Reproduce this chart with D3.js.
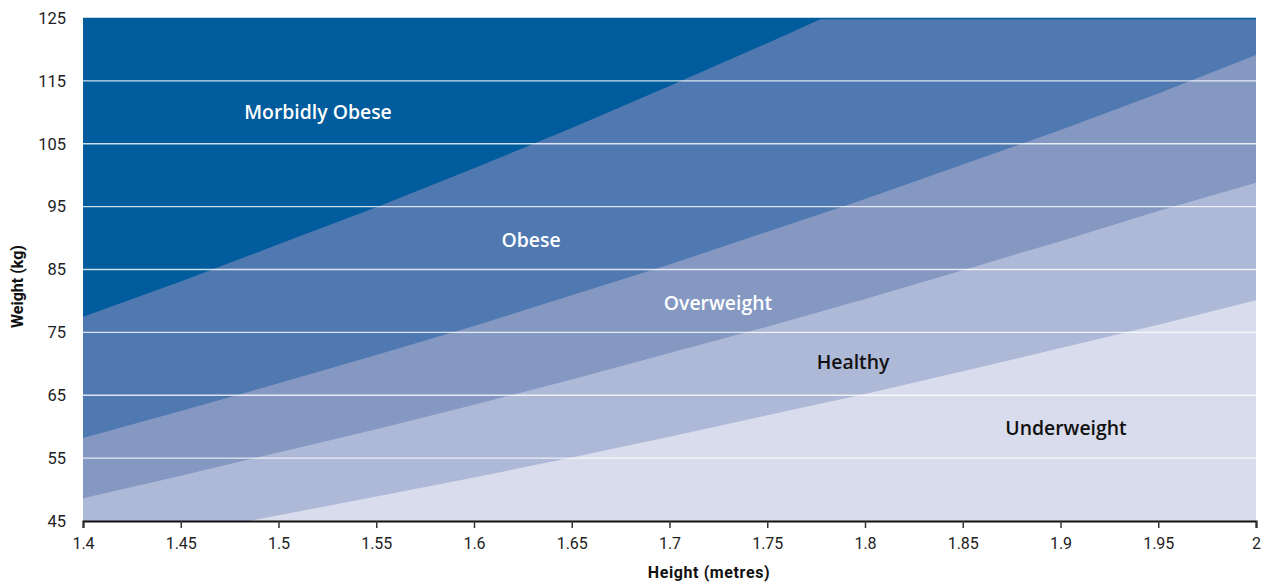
<!DOCTYPE html>
<html>
<head>
<meta charset="utf-8">
<script src="https://cdn.jsdelivr.net/npm/d3@7"></script>
<style>
  html, body { margin: 0; padding: 0; background: #fff; }
  svg { display: block; }
</style>
</head>
<body>
<svg id="chart" width="1269" height="588"></svg>
<script>
// ---- data ----
const heights = [1.40, 1.45, 1.50, 1.55, 1.60, 1.65, 1.70, 1.75, 1.80, 1.85, 1.90, 1.95, 2.00];
// upper weight boundary (kg) of each band at each height
const underweightTop = [40.2, 43.0, 45.9, 48.9, 51.9, 55.1, 58.4, 61.8, 65.2, 68.8, 72.5, 76.2, 80.1];
const healthyTop     = [48.6, 52.2, 55.9, 59.6, 63.5, 67.5, 71.7, 75.9, 80.3, 84.9, 89.5, 94.3, 98.8];
const overweightTop  = [58.2, 62.5, 66.9, 71.4, 76.0, 80.9, 85.8, 91.0, 96.2, 101.7, 107.2, 113.0, 119.1];
const obeseTop       = [77.5, 83.1, 89.0, 94.9, 101.1, 107.5, 114.2, 121.0, 128.0, 135.2, 142.6, 150.2, 158.0];
const bandNames = ["Underweight", "Healthy", "Overweight", "Obese", "Morbidly Obese"];
const bandColors = ["#d8dcec", "#aeb8d7", "#8498c2", "#5079b1", "#005c9c"];
const bandLabelPos = [[1.9028, 59.8], [1.7939, 70.3], [1.7248, 79.7], [1.6292, 89.7], [1.5202, 110.1]];
const bandLabelColor = ["#111", "#111", "#fff", "#fff", "#fff"];
const xTicks = [1.4, 1.45, 1.5, 1.55, 1.6, 1.65, 1.7, 1.75, 1.8, 1.85, 1.9, 1.95, 2];
const yTicks = [45, 55, 65, 75, 85, 95, 105, 115, 125];
const xTitle = "Height (metres)";
const yTitle = "Weight (kg)";

// ---- layout ----
const svg = d3.select("#chart");
const L = 83, R = 1256, T = 18, B = 521;
const x = d3.scaleLinear().domain([1.4, 2.0]).range([L, R]);
const y = d3.scaleLinear().domain([45, 125]).range([B, T]);

svg.append("defs").append("clipPath").attr("id", "plotclip")
  .append("rect").attr("x", L).attr("y", T).attr("width", R - L).attr("height", B - T);

const plot = svg.append("g").attr("clip-path", "url(#plotclip)");

const lowers = [null, underweightTop, healthyTop, overweightTop, obeseTop];

plot.append("rect").attr("x", L).attr("y", T).attr("width", R - L).attr("height", B - T)
  .attr("fill", bandColors[0]);

const area = d3.area()
  .x((d, i) => x(heights[i]))
  .y0(d => y(d))
  .y1(() => y(200));

for (let b = 1; b < 5; b++) {
  plot.append("path").datum(lowers[b]).attr("d", area).attr("fill", bandColors[b]);
}

// grid lines
plot.append("g").selectAll("line").data(yTicks.filter(t => t > 45 && t < 125)).join("line")
  .attr("x1", L).attr("x2", R)
  .attr("y1", d => y(d)).attr("y2", d => y(d))
  .attr("stroke", "#ffffff").attr("stroke-opacity", 0.8).attr("stroke-width", 1.4);

// top edge line
svg.append("line").attr("x1", L).attr("x2", R).attr("y1", T + 0.5).attr("y2", T + 0.5)
  .attr("stroke", "#005c9c").attr("stroke-width", 1.5);

// band labels
plot.append("g").selectAll("text").data(bandNames).join("text")
  .attr("x", (d, i) => x(bandLabelPos[i][0]))
  .attr("y", (d, i) => y(bandLabelPos[i][1]))
  .attr("text-anchor", "middle")
  .attr("dominant-baseline", "central")
  .attr("fill", (d, i) => bandLabelColor[i])
  .style("font-family", "'Open Sans', 'Noto Sans', sans-serif")
  .style("font-weight", "600")
  .style("font-size", "19.4px")
  .text(d => d);

// x axis
const xAxis = svg.append("g").attr("transform", `translate(0,${B})`)
  .call(d3.axisBottom(x).tickValues(xTicks).tickSize(7).tickPadding(10)
    .tickFormat(d => d3.format("")(+d.toFixed(2))));
xAxis.select(".domain").attr("stroke", "#111").attr("stroke-width", 2);
xAxis.selectAll(".tick line").attr("stroke", "#333").attr("stroke-width", 1.5);
xAxis.selectAll("text")
  .style("font-family", "'Liberation Sans Narrow', 'Roboto', sans-serif")
  .style("font-size", "16px").attr("fill", "#222");

// y axis
const yAxis = svg.append("g").attr("transform", `translate(${L},0)`)
  .call(d3.axisLeft(y).tickValues(yTicks).tickSize(0).tickPadding(17));
yAxis.select(".domain").remove();
yAxis.selectAll("text")
  .style("font-family", "'Roboto', sans-serif")
  .style("font-size", "16.5px").attr("fill", "#222");

// titles
svg.append("text").attr("x", 709).attr("y", 578)
  .attr("text-anchor", "middle")
  .style("font-family", "'Liberation Sans Narrow', 'Roboto', sans-serif")
  .style("font-weight", "bold").style("font-size", "16px").attr("fill", "#111")
  .style("letter-spacing", "0.6px")
  .text(xTitle);

svg.append("text").attr("transform", `translate(23,${(T + B) / 2 + 17}) rotate(-90)`)
  .attr("text-anchor", "middle")
  .style("font-family", "'Liberation Sans Narrow', 'Roboto', sans-serif")
  .style("font-weight", "bold").style("font-size", "16px").attr("fill", "#111")
  .text(yTitle);
</script>
</body>
</html>
